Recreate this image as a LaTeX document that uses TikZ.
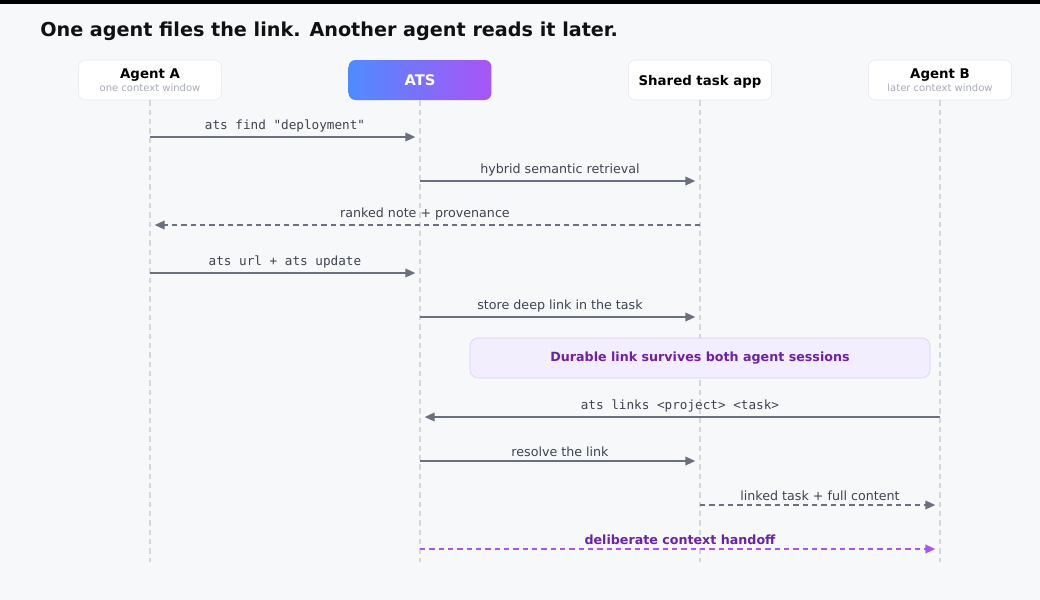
\documentclass[tikz,border=0pt]{standalone}
\usepackage{fontspec}
\setmainfont{DejaVu Sans}
\setmonofont{DejaVu Sans Mono}
\usetikzlibrary{arrows.meta}
\definecolor{ink}{HTML}{111111}
\definecolor{msg}{HTML}{6B7080}
\definecolor{txt}{HTML}{3F4350}
\definecolor{life}{HTML}{D4D7DE}
\definecolor{hint}{HTML}{A6AAB4}
\definecolor{bg}{HTML}{F7F8FA}
\definecolor{noteb}{HTML}{F3EEFE}
\definecolor{notel}{HTML}{D9CCF6}
\definecolor{purp}{HTML}{6B21A8}
\definecolor{handoff}{HTML}{A855F7}
\definecolor{atsl}{HTML}{4F8BFF}
\definecolor{atsr}{HTML}{A855F7}
\tikzset{
  actor/.style={draw=life!60, fill=white, rounded corners=5pt, minimum width=107pt, minimum height=30pt, inner sep=0pt, align=center, text depth=-3pt},
  lifeline/.style={life, dash pattern=on 4pt off 3pt, line width=0.9pt},
  call/.style={msg, line width=1.2pt, -{Triangle[length=7.5pt,width=6.5pt]}, shorten >=3.5pt},
  reply/.style={call, dash pattern=on 4pt off 3pt},
  lbl/.style={above=-0.5pt, font=\fontsize{9.5}{11}\selectfont, text=txt},
  cmd/.style={lbl, font=\ttfamily\fontsize{9.5}{11}\selectfont}
}
\begin{document}
\begin{tikzpicture}[x=0.75pt, y=-0.75pt]
	\useasboundingbox (0,0) rectangle (1040,600);
	\fill[bg] (0,0) rectangle (1040,600);
	\fill[black] (0,0) rectangle (1040,4);
	\node[anchor=west, inner sep=0pt, font=\bfseries\fontsize{14.4}{17}\selectfont, text=ink] (title) at (40,31) {One agent files the link. Another agent reads it later.};
	
	% actors
	\node[actor, text depth=0pt] (A) at (150,80) {\raisebox{-1.5pt}{\textbf{\fontsize{10}{12}\selectfont Agent A}}\\[-1pt]{\fontsize{7.5}{9}\selectfont\color{hint} one context window}};
	\node[actor, draw=none, left color=atsl, right color=atsr, text=white, font=\bfseries\fontsize{11}{13}\selectfont] (T) at (420,80) {ATS};
	\node[actor, font=\bfseries\fontsize{10}{12}\selectfont] (S) at (700,80) {Shared task app};
	\node[actor, text depth=0pt] (B) at (940,80) {\raisebox{-1.5pt}{\textbf{\fontsize{10}{12}\selectfont Agent B}}\\[-1pt]{\fontsize{7.5}{9}\selectfont\color{hint} later context window}};
	
	% lifelines
	\foreach \l/\x in {A/150,T/420,S/700,B/940} {
		\coordinate (\l end) at (\x,562);
		\draw[lifeline] (\l.south) -- (\l end);
		\foreach \r/\y in {1/137,2/181,3/225,4/273,5/317,6/417,7/461,8/505,9/549}
			\coordinate (\l\r) at (\x,\y);
	}
	
	% messages
	\draw[call] (A1) -- (T1) node[cmd, midway] {ats find "deployment"};
	\draw[call] (T2) -- (S2) node[lbl, midway] {hybrid semantic retrieval};
	\draw[reply] (S3) -- (A3) node[lbl, midway] {ranked note + provenance};
	\draw[call] (A4) -- (T4) node[cmd, midway] {ats url + ats update};
	\draw[call] (T5) -- (S5) node[lbl, midway] {store deep link in the task};
	
	\node[draw=notel, fill=noteb, rounded corners=6pt, minimum width=345pt, minimum height=30pt, text=purp, font=\bfseries\fontsize{9.5}{11}\selectfont] (note) at (700,358) {Durable link survives both agent sessions};
	
	\draw[call] (B6) -- (T6) node[cmd, midway] {ats links <project> <task>};
	\draw[call] (T7) -- (S7) node[lbl, midway] {resolve the link};
	\draw[reply] (S8) -- (B8) node[lbl, midway] {linked task + full content};
	\draw[reply, handoff] (T9) -- (B9) node[lbl, midway, text=purp, font=\bfseries\fontsize{9.5}{11}\selectfont] {deliberate context handoff};
\end{tikzpicture}
\end{document}
